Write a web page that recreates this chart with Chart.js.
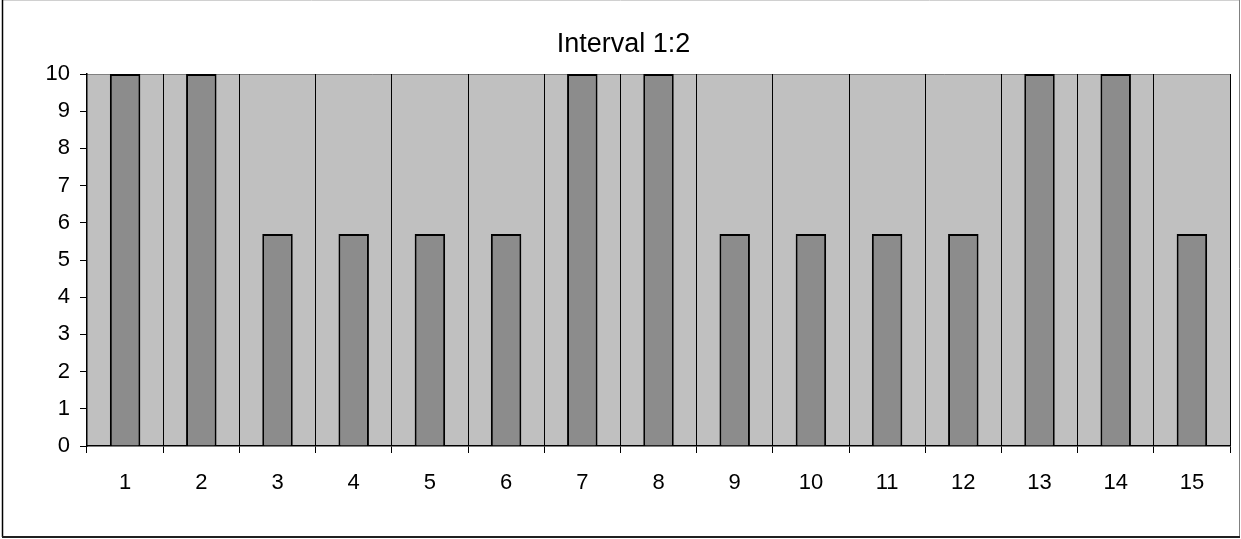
<!DOCTYPE html>
<html>
<head>
<meta charset="utf-8">
<script src="https://cdn.jsdelivr.net/npm/chart.js@4.4.0/dist/chart.umd.min.js"></script>
<style>
  html, body { margin: 0; padding: 0; background: #ffffff; }
  #wrap { width: 1241px; height: 539px; position: relative; }
</style>
</head>
<body>
<div id="wrap"><canvas id="c" width="1241" height="539"></canvas></div>
<script>
const chartTitle = "Interval 1:2";
const categories = ["1","2","3","4","5","6","7","8","9","10","11","12","13","14","15"];
const values = [10, 10, 5.7, 5.7, 5.7, 5.7, 10, 10, 5.7, 5.7, 5.7, 5.7, 10, 10, 5.7];
const yMin = 0, yMax = 10, yStep = 1;

const plotBg = {
  id: 'plotBg',
  beforeDraw(chart) {
    const {ctx, chartArea: a} = chart;
    ctx.save();
    ctx.fillStyle = '#C0C0C0';
    ctx.fillRect(a.left, a.top, a.right - a.left, a.bottom - a.top);
    ctx.strokeStyle = '#808080';
    ctx.lineWidth = 1;
    ctx.beginPath();
    ctx.moveTo(a.left, a.top + 0.5);
    ctx.lineTo(a.right, a.top + 0.5);
    ctx.stroke();
    ctx.restore();
  },
  afterDraw(chart) {
    const ctx = chart.ctx;
    ctx.save();
    ctx.lineWidth = 1;
    ctx.strokeStyle = '#d0d0d0';
    ctx.beginPath(); ctx.moveTo(2, 0.5); ctx.lineTo(1239, 0.5); ctx.stroke();
    ctx.strokeStyle = '#808080';
    ctx.beginPath(); ctx.moveTo(1239.5, 0); ctx.lineTo(1239.5, 537); ctx.stroke();
    ctx.strokeStyle = '#000000';
    ctx.lineWidth = 1.5;
    ctx.beginPath(); ctx.moveTo(2.5, 0); ctx.lineTo(2.5, 537); ctx.stroke();
    ctx.lineWidth = 2;
    ctx.strokeStyle = '#202020';
    ctx.beginPath(); ctx.moveTo(2, 537); ctx.lineTo(1240, 537); ctx.stroke();
    ctx.restore();
  }
};

new Chart(document.getElementById('c'), {
  type: 'bar',
  data: {
    labels: categories,
    datasets: [{
      data: values,
      backgroundColor: '#8C8C8C',
      borderColor: '#000000',
      borderWidth: 2,
      barPercentage: 0.4,
      categoryPercentage: 1.0
    }]
  },
  options: {
    responsive: false,
    devicePixelRatio: 1,
    animation: false,
    layout: { padding: { left: 17, right: 11, top: 0, bottom: 0 } },
    plugins: {
      legend: { display: false },
      tooltip: { enabled: false },
      title: {
        display: true,
        text: chartTitle,
        color: '#000000',
        font: { family: 'Liberation Sans, Arial, sans-serif', size: 27, weight: 'normal' },
        padding: { top: 28, bottom: 13.6 }
      }
    },
    scales: {
      x: {
        offset: true,
        grid: {
          offset: true,
          display: true,
          drawOnChartArea: true,
          drawTicks: true,
          tickLength: 7,
          color: '#000000',
          tickColor: '#000000',
          lineWidth: 1
        },
        border: { display: true, color: '#000000', width: 1.5 },
        ticks: {
          color: '#000000',
          font: { family: 'Liberation Sans, Arial, sans-serif', size: 22 },
          padding: 17,
          maxRotation: 0,
          autoSkip: false
        },
        afterFit(scale) { scale.height = 93; }
      },
      y: {
        min: yMin,
        max: yMax,
        grid: {
          display: true,
          drawOnChartArea: false,
          drawTicks: true,
          tickLength: 7,
          tickColor: '#000000',
          color: '#000000'
        },
        border: { display: true, color: '#000000', width: 1.5 },
        ticks: {
          stepSize: yStep,
          color: '#000000',
          font: { family: 'Liberation Sans, Arial, sans-serif', size: 22 },
          padding: 10
        },
        afterFit(scale) { scale.width = 70; }
      }
    }
  },
  plugins: [plotBg]
});
</script>
</body>
</html>
